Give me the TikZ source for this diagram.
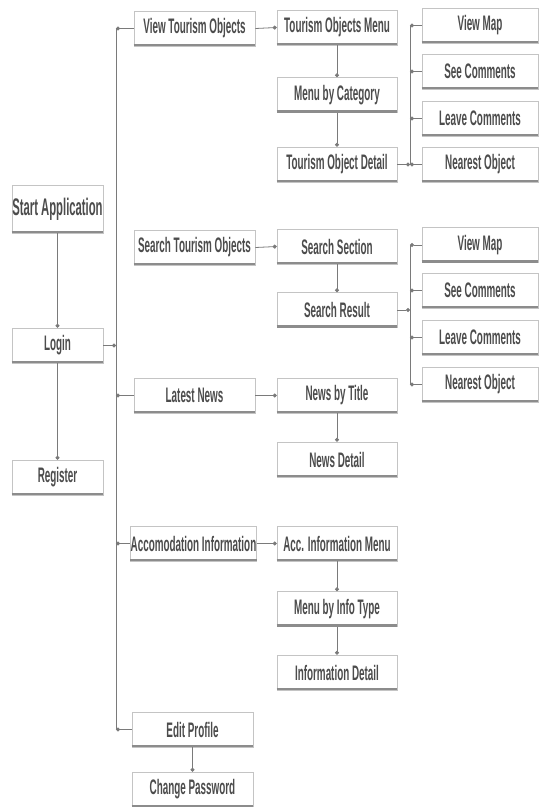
\documentclass[tikz,border=0pt]{standalone}
\usepackage{fontspec}
\setmainfont{Liberation Sans}[FakeStretch=0.47]
\usetikzlibrary{arrows.meta}
\definecolor{boxborder}{HTML}{C4C4C4}
\definecolor{boxbottom}{HTML}{8C8C8C}
\definecolor{textgray}{HTML}{4C4C4C}
\definecolor{linegray}{HTML}{7A7A7A}
\tikzset{
  box/.style={draw=boxborder, fill=white, line width=0.6pt, minimum height=35pt,
    inner sep=0pt, font=\fontsize{21}{21}\selectfont\bfseries, text=textgray},
  colA/.style={box, minimum width=91pt},
  colB/.style={box, minimum width=121pt},
  colC/.style={box, minimum width=120pt},
  colD/.style={box, minimum width=116pt},
  conn/.style={draw=linegray, line width=0.8pt},
  dotend/.style={conn, -{Circle[length=4pt, fill=linegray]}},
  dotstart/.style={conn, {Circle[length=4pt, fill=linegray]}-},
  bottomline/.style={draw=boxbottom, line width=2.6pt, line cap=butt}
}
\begin{document}
\begin{tikzpicture}[x=1pt, y=-1pt]
\useasboundingbox (0,0) rectangle (539,807);
% trunk reference coordinates
\coordinate (T) at (116,0);
\coordinate (B) at (410,0);
% column 1
\node[colA, minimum height=48pt, font=\fontsize{24}{24}\selectfont\bfseries] (start) at (57.5,209) {Start Application};
\node[colA] (login) at (57.5,345.5) {Login};
\node[colA] (reg) at (57.5,477.5) {Register};
% column 2
\node[colB] (vto) at (194.5,28.5) {View Tourism Objects};
\node[colB] (sto) at (194.5,247.5) {Search Tourism Objects};
\node[colB] (ln) at (194.5,395.5) {Latest News};
\node[colB] (acc) at (193.5,543.5) {Accomodation Information};
\node[colB] (ep) at (192.5,729.5) {Edit Profile};
\node[colB] (cp) at (192.5,789.5) {Change Password};
% column 3
\node[colC] (tom) at (337,27.5) {Tourism Objects Menu};
\node[colC] (mbc) at (337,95) {Menu by Category};
\node[colC] (tod) at (337,164.5) {Tourism Object Detail};
\node[colC] (ss) at (337,246.5) {Search Section};
\node[colC] (sr) at (337,310) {Search Result};
\node[colC] (nbt) at (337,395.5) {News by Title};
\node[colC] (nd) at (337,459.5) {News Detail};
\node[colC] (aim) at (337,543.5) {Acc. Information Menu};
\node[colC] (mit) at (337,609) {Menu by Info Type};
\node[colC] (id) at (337,672.5) {Information Detail};
% column 4
\node[colD] (vm1) at (480,25.5) {View Map};
\node[colD] (sc1) at (480,71.5) {See Comments};
\node[colD] (lc1) at (480,118.5) {Leave Comments};
\node[colD] (no1) at (480,164.5) {Nearest Object};
\node[colD] (vm2) at (480,245) {View Map};
\node[colD] (sc2) at (480,290.5) {See Comments};
\node[colD] (lc2) at (480,337.5) {Leave Comments};
\node[colD] (no2) at (480,384.5) {Nearest Object};
% bottom shadow lines
\foreach \n in {start,login,reg,vto,sto,ln,acc,ep,cp,tom,mbc,tod,ss,sr,nbt,nd,aim,mit,id,vm1,sc1,lc1,no1,vm2,sc2,lc2,no2}
  \draw[bottomline] ([yshift=1.3pt]\n.south west) -- ([yshift=1.3pt]\n.south east);
% column 1 connectors
\draw[dotend] (start.south) -- (login.north);
\draw[dotend] (login.south) -- (reg.north);
\draw[dotend] (login.east) -- (login.east -| T);
% main trunk
\draw[conn] (vto.west -| T) -- (ep.west -| T);
\foreach \n in {vto,ln,acc,ep}
  \draw[dotstart] (\n.west -| T) -- (\n.west);
% column 2 to column 3
\draw[dotend] (vto.east) -- (tom.west);
\draw[dotend] (sto.east) -- (ss.west);
\draw[dotend] (ln.east) -- (nbt.west);
\draw[dotend] (acc.east) -- (aim.west);
\draw[dotend] (ep.south) -- (cp.north);
% column 3 verticals
\draw[dotend] (tom.south) -- (mbc.north);
\draw[dotend] (mbc.south) -- (tod.north);
\draw[dotend] (ss.south) -- (sr.north);
\draw[dotend] (nbt.south) -- (nd.north);
\draw[dotend] (aim.south) -- (mit.north);
\draw[dotend] (mit.south) -- (id.north);
% branch trunks
\draw[conn] (vm1.west -| B) -- (no1.west -| B);
\draw[conn] (vm2.west -| B) -- (no2.west -| B);
\foreach \n in {vm1,sc1,lc1,no1,vm2,sc2,lc2,no2}
  \draw[dotstart] (\n.west -| B) -- (\n.west);
\draw[dotend] (tod.east) -- (tod.east -| B);
\draw[dotend] (sr.east) -- (sr.east -| B);
\end{tikzpicture}
\end{document}
